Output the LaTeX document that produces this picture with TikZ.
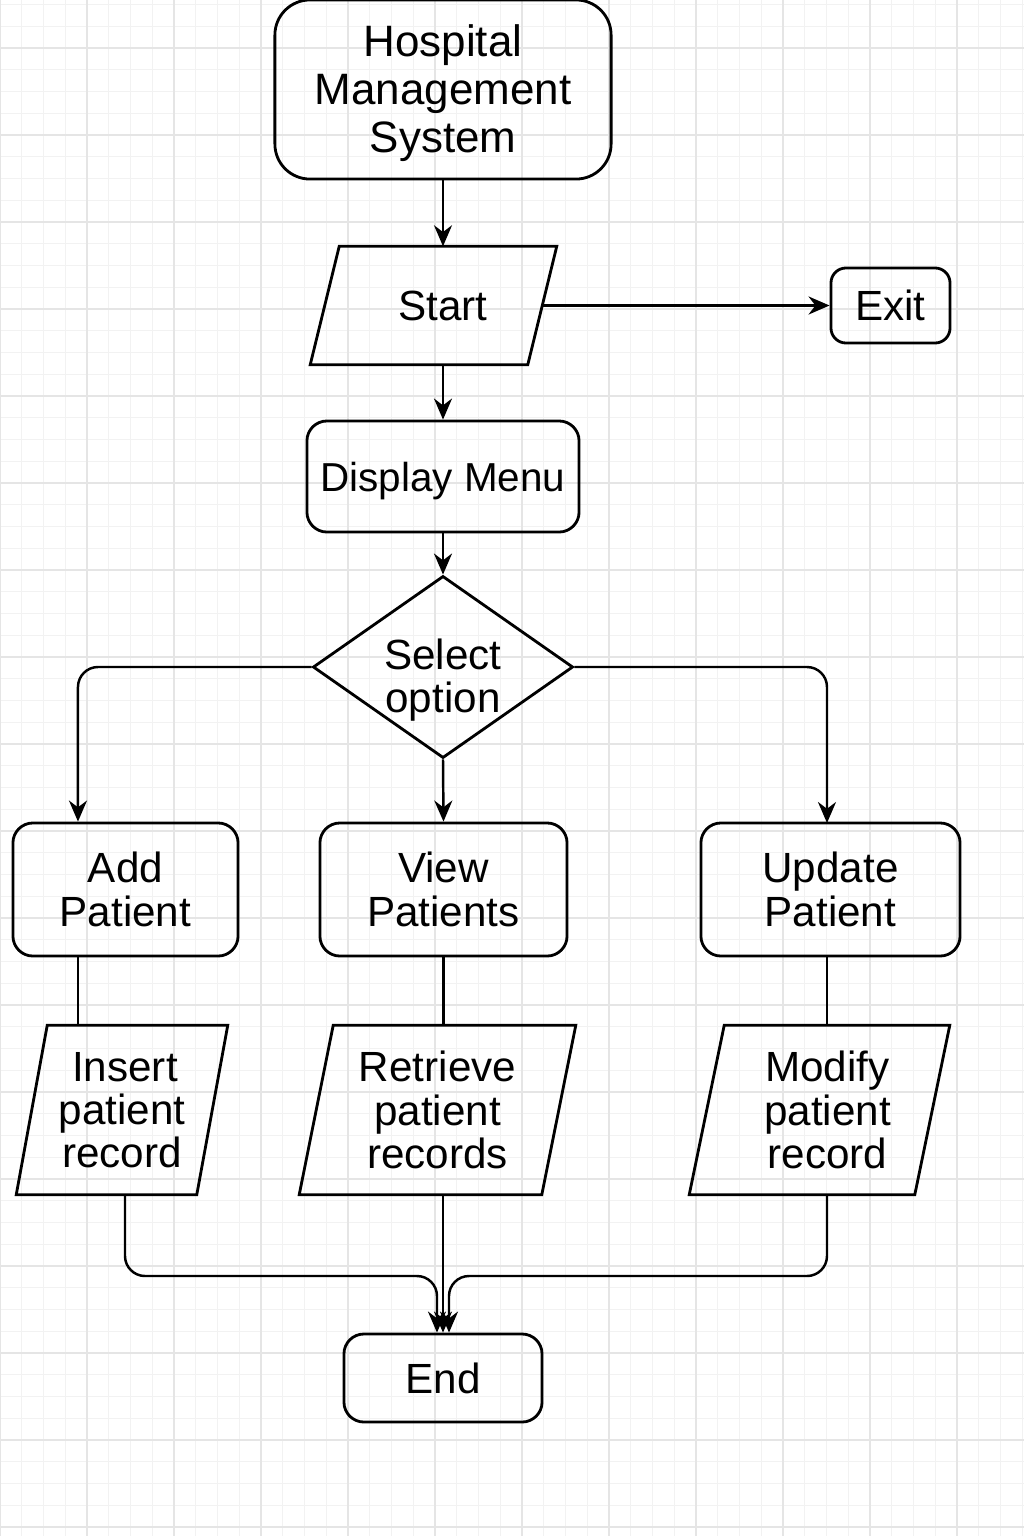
\documentclass[tikz,border=0pt]{standalone}
\usepackage{fontspec}
\setmainfont{Liberation Sans}
\usetikzlibrary{arrows.meta}
\usetikzlibrary{shapes.geometric}
\usetikzlibrary{calc}
\tikzset{>={Stealth[length=2.1mm,width=1.8mm]}}
\tikzset{
  box/.style={draw, line width=0.8pt, rounded corners=2mm, align=center, inner sep=0pt,
    font=\fontsize{12}{12.3}\selectfont},
  iobox/.style={rectangle, align=center, inner sep=0pt, font=\fontsize{12}{12.3}\selectfont},
  ioline/.style={line width=0.8pt},
  choice/.style={draw, line width=0.8pt, diamond, aspect=1.43, align=center, inner sep=-4pt,
    font=\fontsize{12}{12.3}\selectfont},
  flow/.style={->, line width=0.7pt},
  link/.style={line width=0.7pt},
  minorgrid/.style={draw=black!5, line width=0.3pt},
  majorgrid/.style={draw=black!10, line width=0.4pt}
}

\begin{document}
\begin{tikzpicture}[x=0.01cm, y=-0.01cm]

    \useasboundingbox (0,0) rectangle (1024,1536);

    % background grid
    \foreach \k in {0,...,47}
    \draw[minorgrid] (\k*21.75,0) -- (\k*21.75,1536);
    \foreach \k in {-2,...,68}
    \draw[minorgrid] (0,48+\k*21.75) -- (1024,48+\k*21.75);
    \foreach \k in {0,...,11}
    \draw[majorgrid] (\k*87,0) -- (\k*87,1536);
    \foreach \k in {0,...,17}
    \draw[majorgrid] (0,48+\k*87) -- (1024,48+\k*87);

    \node[box, rounded corners=3.5mm, minimum width=3.36cm, minimum height=1.79cm,
      font=\fontsize{12.5}{13.6}\selectfont] (hms) at (443,89.5) {\rule{0pt}{11pt}Hospital\\Management\\System};

    \node[iobox, minimum width=2.45cm, minimum height=1.17cm] (start) at (433.5,305.5) {\hspace{0.19cm}Start};

    \node[box, rounded corners=1.5mm, minimum width=1.19cm, minimum height=0.75cm] (exit) at (890.5,305.5) {Exit};

    \node[box, minimum width=2.72cm, minimum height=1.11cm,
      font=\fontsize{11.5}{12}\selectfont] (menu) at (443,476.5) {\rule{0pt}{11pt}Display Menu};

    \node[choice, minimum width=2.6cm, minimum height=1.82cm] (sel) at (443,667) {\rule{0pt}{16pt}Select\\option};

    \node[box, minimum width=2.25cm, minimum height=1.33cm] (add) at (125.5,889.5) {Add\\Patient};
    \node[box, minimum width=2.47cm, minimum height=1.33cm] (view) at (443.5,889.5) {View\\Patients};
    \node[box, minimum width=2.59cm, minimum height=1.33cm] (upd) at (830.5,889.5) {Update\\Patient};

    \node[iobox, minimum width=2.10cm, minimum height=1.68cm] (ins) at (122,1110) {\hspace{0.06cm}Insert\\patient\\record};
    \node[iobox, minimum width=2.75cm, minimum height=1.68cm] (ret) at (437.5,1110) {Retrieve\\patient\\records};
    \node[iobox, minimum width=2.59cm, minimum height=1.68cm] (mod) at (819.5,1110) {\hspace{0.16cm}Modify\\\hspace{0.16cm}patient\\\hspace{0.16cm}record};

    \node[box, minimum width=1.98cm, minimum height=0.88cm] (end) at (443,1378) {End};

    % slanted input/output outlines
    \foreach \n/\s in {start/29,ins/31,ret/34,mod/35}
    \draw[ioline] (\n.south west) -- ($(\n.north west)+(\s,0)$) -- (\n.north east)
      -- ($(\n.south east)+(-\s,0)$) -- cycle;

    % connectors
    \draw[flow] (hms.south) -- (hms.south |- start.north);
    \draw[flow] ([xshift=-1.45mm]start.east) -- (exit.west);
    \draw[flow] (start.south -| menu.north) -- (menu.north);
    \draw[flow] (menu.south) -- (sel.north);

    \coordinate (updin) at (827,823);
    \draw[flow, rounded corners=2mm] (sel.west) -| ([xshift=-4.75mm]add.north);
    \draw[flow] (sel.south) -- (view.north);
    \draw[flow, rounded corners=2mm] (sel.east) -| (updin);

    \draw[link] ([xshift=-4.75mm]add.south) -- ([xshift=-4.75mm]add.south |- ins.north);
    \draw[link] (view.south) -- (view.south |- ret.north);
    \draw[link] (updin |- upd.south) -- (updin |- mod.north);

    \coordinate (join) at (443,1276);
    \draw[flow, rounded corners=2mm] ([xshift=0.3mm]ins.south) |- ([xshift=-0.6mm]join) -- ([xshift=-0.6mm]end.north);
    \draw[flow] (ret.south -| end.north) -- (end.north);
    \draw[flow, rounded corners=2mm] (mod.south -| updin) |- ([xshift=0.6mm]join) -- ([xshift=0.6mm]end.north);

\end{tikzpicture}
\end{document}
